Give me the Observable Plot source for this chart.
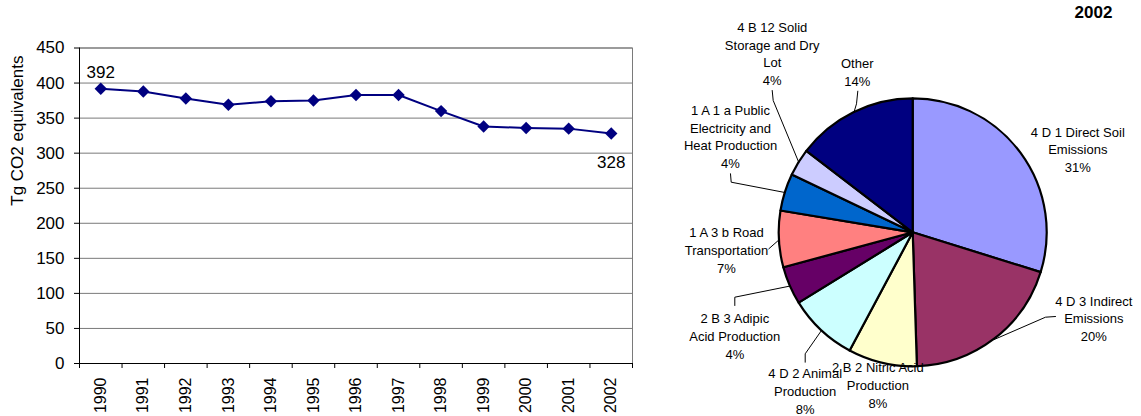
<!DOCTYPE html>
<html>
<head>
<meta charset="utf-8">
<script src="https://cdn.jsdelivr.net/npm/d3@7"></script>
<script src="https://cdn.jsdelivr.net/npm/@observablehq/plot@0.6"></script>
<style>
  body { margin: 0; background: #fff; }
  #wrap { position: relative; width: 1141px; height: 416px; background: #fff; }
  #line { position: absolute; left: 0; top: 0; }
  #pie { position: absolute; left: 640px; top: 0; }
</style>
</head>
<body>
<div id="wrap"><div id="line"></div><div id="pie"></div></div>
<script>
// ---------- data ----------
const years = [1990, 1991, 1992, 1993, 1994, 1995, 1996, 1997, 1998, 1999, 2000, 2001, 2002];
const emissions = [392, 388, 378, 369, 374, 375, 383, 383, 360, 338, 336, 335, 328];
const yTicks = [0, 50, 100, 150, 200, 250, 300, 350, 400, 450];
const yTitle = "Tg CO2 equivalents";

const sources = [
  "4 D 1 Direct Soil Emissions",
  "4 D 3 Indirect Emissions",
  "2 B 2 Nitric Acid Production",
  "4 D 2 Animal Production",
  "2 B 3 Adipic Acid Production",
  "1 A 3 b Road Transportation",
  "1 A 1 a Public Electricity and Heat Production",
  "4 B 12 Solid Storage and Dry Lot",
  "Other"
];
const shares = [29.8, 19.7, 8.3, 8.4, 4.6, 6.8, 4.5, 3.3, 14.6];
const sourceLabels = [
  ["4 D 1 Direct Soil", "Emissions", "31%"],
  ["4 D 3 Indirect", "Emissions", "20%"],
  ["2 B 2 Nitric Acid", "Production", "8%"],
  ["4 D 2 Animal", "Production", "8%"],
  ["2 B 3 Adipic", "Acid Production", "4%"],
  ["1 A 3 b Road", "Transportation", "7%"],
  ["1 A 1 a Public", "Electricity and", "Heat Production", "4%"],
  ["4 B 12 Solid", "Storage and Dry", "Lot", "4%"],
  ["Other", "14%"]
];
const sourceColors = ["#9999FF", "#993366", "#FFFFCC", "#CCFFFF", "#660066", "#FF8080", "#0066CC", "#CCCCFF", "#000080"];
const pieTitle = "2002";

// ---------- layout (pixel offsets relative to pie centre) ----------
const labelLayout = [
  { dx: 164.6, dy: -84,    leader: null },
  { dx: 180.6, dy: 84.9,   leader: [[142.3, 83.7], [132.3, 84.4]] },
  { dx: -35.4, dy: 151.5,  leader: null },
  { dx: -108,  dy: 157.6,  leader: [[-108, 129.4], [-108, 121]] },
  { dx: -178.4, dy: 102.7, leader: [[-178.4, 72.7], [-178.4, 64.4]] },
  { dx: -186.7, dy: 16.4,  leader: [[-144.4, 16]] },
  { dx: -182.7, dy: -97,   leader: [[-182.7, -59], [-182, -50.6]] },
  { dx: -141,  dy: -180,   leader: [[-141, -142.3], [-140, -132.3]] },
  { dx: -56,   dy: -161.5, leader: [[-55.4, -141.6], [-56.7, -129]] }
];
const titleOffset = [180.3, -220.3];
const R = 134;
const PIE_W = 501, PIE_H = 416, PCX = 272.7, PCY = 232.3;

const FONT = "Arial, 'Liberation Sans', sans-serif";

// ---------- line chart ----------
const series = years.map((year, i) => ({ year, value: emissions[i] }));
const boundaries = [...years.map(y => y - 0.5), years[years.length - 1] + 0.5];

const linePlot = Plot.plot({
  width: 640,
  height: 416,
  marginLeft: 79,
  marginRight: 8,
  marginTop: 47.5,
  marginBottom: 53,
  style: { fontFamily: FONT, fontSize: "17px", color: "#000", background: "transparent" },
  x: { domain: [boundaries[0], boundaries[boundaries.length - 1]] },
  y: { domain: [yTicks[0], yTicks[yTicks.length - 1]] },
  marks: [
    Plot.gridY(yTicks, { stroke: "#7a7a7a", strokeOpacity: 1 }),
    Plot.frame({ stroke: "#7a7a7a" }),
    Plot.ruleX([boundaries[0]], { stroke: "#000" }),
    Plot.ruleY([yTicks[0]], { stroke: "#000" }),
    Plot.axisY(yTicks, { tickSize: 5, tickPadding: 10, fontSize: 17, label: null }),
    Plot.axisX(boundaries, { tickSize: 5, tickFormat: () => "", label: null }),
    Plot.axisX(years, { tickSize: 0, tickPadding: 14, tickRotate: -90, tickFormat: d => String(d), fontSize: 16, label: null }),
    Plot.line(series, { x: "year", y: "value", stroke: "#000080", strokeWidth: 2 }),
    Plot.dot(series, { x: "year", y: "value", symbol: "diamond2", r: 5.6, fill: "#000080", stroke: "none" }),
    Plot.text([series[0]], { x: "year", y: "value", text: d => String(d.value), dy: -16, fontSize: 17 }),
    Plot.text([series[series.length - 1]], { x: "year", y: "value", text: d => String(d.value), dy: 29, fontSize: 17 }),
    Plot.text([yTitle], { frameAnchor: "left", rotate: -90, dx: -62, fontSize: 17 })
  ]
});
document.getElementById("line").appendChild(linePlot);

// ---------- pie chart ----------
const pieData = sources.map((name, i) => ({ name, share: shares[i] }));
const arcs = d3.pie().sort(null).value(d => d.share)(pieData);
const arcGen = d3.arc().innerRadius(0).outerRadius(R);

const edgePoint = (a) => {
  const m = (a.startAngle + a.endAngle) / 2;
  return [R * Math.sin(m), -R * Math.cos(m)];
};

const leaderData = [];
labelLayout.forEach((l, i) => {
  if (!l.leader) return;
  const pts = [...l.leader, edgePoint(arcs[i])];
  pts.forEach(([x, y]) => leaderData.push({ name: sources[i], x, y }));
});
const labelData = labelLayout.map((l, i) => ({ x: l.dx, y: l.dy, text: sourceLabels[i].join("\n") }));

const piePlot = Plot.plot({
  width: PIE_W,
  height: PIE_H,
  margin: 0,
  style: { fontFamily: FONT, fontSize: "13px", color: "#000", background: "transparent" },
  x: { domain: [-PCX, PIE_W - PCX], range: [0, PIE_W], axis: null },
  y: { domain: [-PCY, PIE_H - PCY], range: [0, PIE_H], axis: null },
  color: { type: "ordinal", domain: sources, range: sourceColors },
  marks: [
    Plot.dot(pieData, {
      x: () => 0,
      y: () => 0,
      fill: "name",
      render(index, scales, values) {
        const cx = scales.x(0), cy = scales.y(0);
        const g = d3.create("svg:g").attr("transform", `translate(${cx},${cy})`);
        for (const i of index) {
          g.append("path")
            .attr("d", arcGen(arcs[i]))
            .attr("fill", values.fill[i])
            .attr("stroke", "#000")
            .attr("stroke-width", 2.2)
            .attr("stroke-linejoin", "round");
        }
        return g.node();
      }
    }),
    Plot.line(leaderData, { x: "x", y: "y", z: "name", stroke: "#000", strokeWidth: 1 }),
    Plot.text(labelData, { x: "x", y: "y", text: "text", fontSize: 13, lineHeight: 1.36, lineAnchor: "middle", fill: "#000" }),
    Plot.text([pieTitle], { x: () => titleOffset[0], y: () => titleOffset[1], fontSize: 17, fontWeight: "bold", fill: "#000" })
  ]
});
document.getElementById("pie").appendChild(piePlot);
</script>
</body>
</html>
